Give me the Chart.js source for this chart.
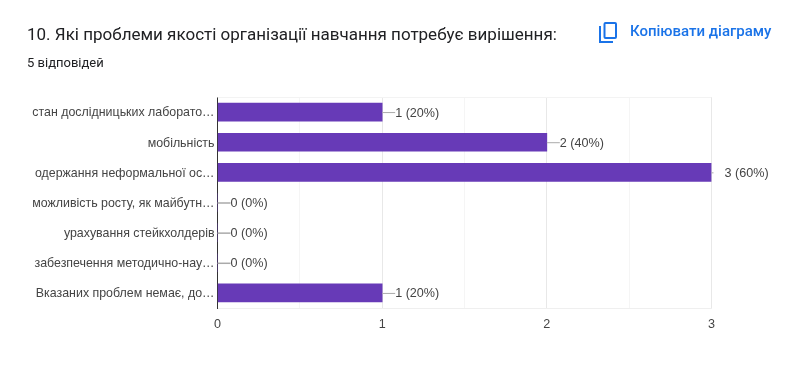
<!DOCTYPE html>
<html>
<head>
<meta charset="utf-8">
<script src="https://cdn.jsdelivr.net/npm/chart.js@4"></script>
<style>
  html, body { margin: 0; padding: 0; background: #fff; }
  #wrap { position: relative; width: 800px; height: 370px; overflow: hidden; font-family: Roboto, sans-serif; }
  #myChart { position: absolute; left: 0; top: 0; }
  .txt { position: absolute; white-space: nowrap; }
  #title { left: 27px; top: 23px; font-size: 17px; line-height: 22px; color: #202124; }
  #sub { left: 27px; top: 55px; font-size: 13px; line-height: 16px; color: #202124; }
  #copy { left: 630px; top: 21px; font-size: 15px; line-height: 20px; font-weight: 500; color: #1a73e8; }
  #icon { position: absolute; left: 598px; top: 21px; }
</style>
</head>
<body>
<div id="wrap">
  <canvas id="myChart" width="800" height="370"></canvas>
  <div class="txt" id="title">10. Які проблеми якості організації навчання потребує вирішення:</div>
  <div class="txt" id="sub">5 відповідей</div>
  <svg id="icon" width="22" height="23" viewBox="0 0 22 23">
    <path d="M2 5v16h13" fill="none" stroke="#1a73e8" stroke-width="2"/>
    <rect x="6.5" y="2" width="11.5" height="15" rx="1" fill="none" stroke="#1a73e8" stroke-width="2"/>
  </svg>
  <div class="txt" id="copy">Копіювати діаграму</div>
</div>
<script>
// data
const categories = [
  "стан дослідницьких лаборато…",
  "мобільність",
  "одержання неформальної ос…",
  "можливість росту, як майбутн…",
  "урахування стейкхолдерів",
  "забезпечення методично-нау…",
  "Вказаних проблем немає, до…",
];
const answers = [1, 2, 3, 0, 0, 0, 1];
const valueLabels = ["1 (20%)", "2 (40%)", "3 (60%)", "0 (0%)", "0 (0%)", "0 (0%)", "1 (20%)"];
const xTicks = [0, 1, 2, 3];

const textColor = "#444";
const labelFont = "Liberation Sans";

//plugin - value labels with the small leader line
const valueLabelPlugin = {
  id: "valueLabelPlugin",
  beforeDatasetsDraw(chart) {
    // faint frame line along the top of the plot
    const { ctx, chartArea: { top, left, right } } = chart;
    ctx.save();
    ctx.strokeStyle = "#f3f3f3";
    ctx.beginPath();
    ctx.moveTo(left, top + 0.5);
    ctx.lineTo(right, top + 0.5);
    ctx.stroke();
    ctx.restore();
  },
  afterDatasetsDraw(chart) {
    const { ctx, scales: { x, y } } = chart;
    ctx.save();
    ctx.font = "12.6px " + labelFont;
    ctx.textBaseline = "middle";
    answers.forEach((v, i) => {
      const px = x.getPixelForValue(v);
      const py = y.getPixelForValue(i);
      ctx.strokeStyle = "#aaa";
      ctx.lineWidth = v === 0 ? 1.5 : 1;
      ctx.beginPath();
      ctx.moveTo(px, py + 0.5);
      // the longest bar only gets a stub, its label sits past the plot
      ctx.lineTo(px + (v === 3 ? 2 : 13), py + 0.5);
      ctx.stroke();
      ctx.fillStyle = textColor;
      ctx.fillText(valueLabels[i], px + 13, py + 1);
    });
    ctx.restore();
  },
};

const config = {
  type: "bar",
  data: {
    labels: categories,
    datasets: [
      {
        data: answers,
        backgroundColor: "#673ab7",
        barThickness: 18,
      },
    ],
  },
  options: {
    indexAxis: "y",
    responsive: false,
    animation: false,
    layout: { padding: { top: 97, right: 88.5, bottom: 22, left: 0 } },
    plugins: { legend: { display: false }, tooltip: { enabled: false } },
    scales: {
      x: {
        min: 0,
        max: 3,
        afterBuildTicks(scale) {
          // integer ticks plus the lighter half-way lines
          const t = [];
          xTicks.forEach((v, i) => {
            t.push({ value: v });
            if (i < xTicks.length - 1) t.push({ value: v + 0.5 });
          });
          scale.ticks = t;
        },
        afterFit(scale) {
          scale.height = 40;
        },
        grid: {
          drawTicks: false,
          color: (c) => (Number.isInteger(c.tick.value) ? "#e8e8e8" : "#f5f5f5"),
        },
        border: { display: true, color: "#efefef" },
        ticks: {
          autoSkip: false,
          maxRotation: 0,
          padding: 9,
          color: textColor,
          font: { family: labelFont, size: 12.6 },
          callback: (v) => (Number.isInteger(v) ? String(v) : ""),
        },
      },
      y: {
        afterFit(scale) {
          scale.width = 217.5;
        },
        grid: { display: false, drawTicks: false },
        border: { display: true, color: "#333", width: 1 },
        ticks: {
          autoSkip: false,
          padding: 3,
          labelOffset: 1,
          color: textColor,
          font: { family: labelFont, size: 12.4 },
        },
      },
    },
  },
  plugins: [valueLabelPlugin],
};

const myChart = new Chart(document.getElementById("myChart"), config);
</script>
</body>
</html>
